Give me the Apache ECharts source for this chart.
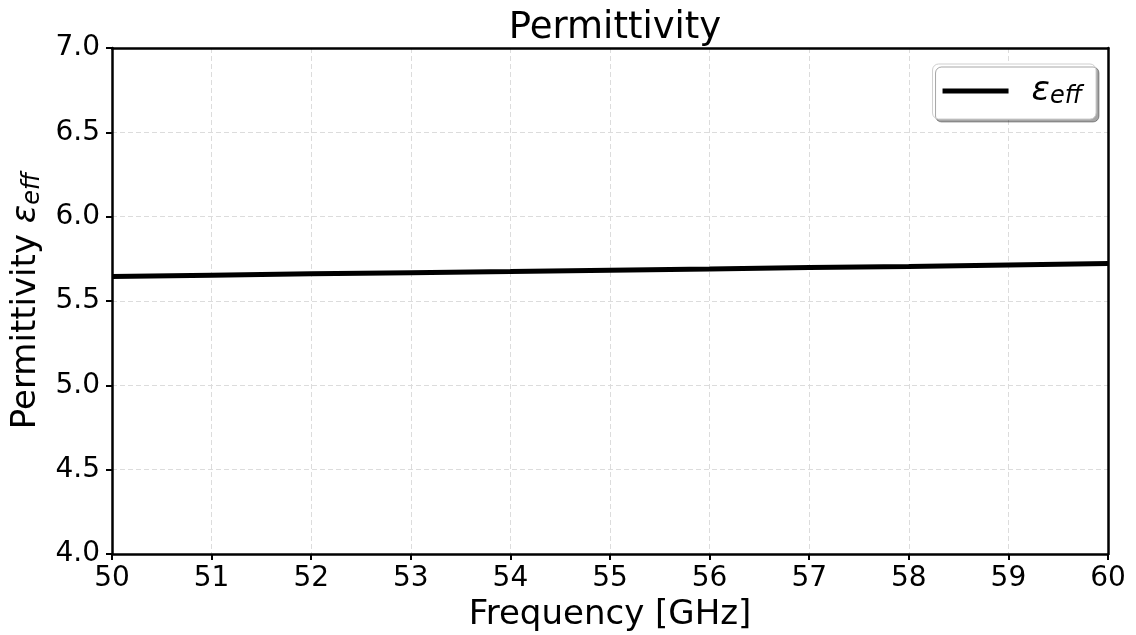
<!DOCTYPE html>
<html>
<head>
<meta charset="utf-8">
<script src="https://cdn.jsdelivr.net/npm/echarts@6/dist/echarts.min.js"></script>
<style>
  html, body { margin: 0; padding: 0; background: #fff; }
  #chart { width: 1136px; height: 635px; }
</style>
</head>
<body>
<div id="chart"></div>
<script>
// Frequency sweep (GHz) and effective permittivity
const frequencyGHz = [50, 51, 52, 53, 54, 55, 56, 57, 58, 59, 60];
const epsEff = [5.645, 5.653, 5.661, 5.668, 5.675, 5.683, 5.690, 5.698, 5.705, 5.714, 5.723];
const yTicks = [4.0, 4.5, 5.0, 5.5, 6.0, 6.5, 7.0];

const FONT = 'DejaVu Sans';
const seriesData = frequencyGHz.map((f, i) => [f, epsEff[i]]);

const spine = { show: true, onZero: false, lineStyle: { color: '#000', width: 2.5 } };
const grid = { show: true, lineStyle: { color: '#dcdcdc', width: 1, type: [5, 3] } };
const tick = { show: true, inside: false, length: 6, lineStyle: { color: '#000', width: 2 } };

// plain frame axes for the top and right edges of the plot box
const frameX = {
  type: 'value', position: 'top', min: 50, max: 60,
  axisLine: spine, axisTick: { show: false }, axisLabel: { show: false }, splitLine: { show: false }
};
const frameY = {
  type: 'value', position: 'right', min: yTicks[0], max: yTicks[yTicks.length - 1],
  axisLine: spine, axisTick: { show: false }, axisLabel: { show: false }, splitLine: { show: false }
};

const chart = echarts.init(document.getElementById('chart'), null, { renderer: 'canvas' });
chart.setOption({
  animation: false,
  backgroundColor: '#fff',
  textStyle: { fontFamily: FONT, color: '#000' },
  title: {
    text: 'Permittivity',
    left: 610,
    textAlign: 'center',
    top: 5,
    textStyle: { fontFamily: FONT, fontSize: 37, fontWeight: 'normal', color: '#000' }
  },
  grid: { left: 112, right: 28, top: 48, bottom: 81, containLabel: false, outerBoundsMode: 'none' },
  legend: {
    data: [{ name: 'eps', icon: 'rect' }],
    right: 40, top: 64,
    orient: 'vertical',
    itemWidth: 66, itemHeight: 5,
    padding: [10, 14, 10, 10],
    backgroundColor: '#fff',
    borderColor: '#cfcfcf', borderWidth: 1, borderRadius: 6,
    shadowColor: 'rgba(0,0,0,0.35)', shadowBlur: 0, shadowOffsetX: 3, shadowOffsetY: 3,
    formatter: () => '{e|ε}{s|eff}',
    textStyle: {
      rich: {
        e: { fontFamily: FONT, fontSize: 34, fontStyle: 'italic', color: '#000', padding: [0, 0, 0, 18] },
        s: { fontFamily: FONT, fontSize: 24, fontStyle: 'italic', color: '#000', verticalAlign: 'bottom', padding: [12, 0, 0, 0] }
      }
    }
  },
  xAxis: [{
    type: 'value',
    min: 50, max: 60, interval: 1,
    name: 'Frequency [GHz]',
    nameLocation: 'middle',
    nameGap: 44,
    nameTextStyle: { fontFamily: FONT, fontSize: 34, color: '#000' },
    axisLine: spine,
    axisTick: tick,
    axisLabel: { fontFamily: FONT, fontSize: 28, color: '#000', margin: 11 },
    splitLine: grid
  }, frameX],
  yAxis: [{
    type: 'value',
    min: yTicks[0], max: yTicks[yTicks.length - 1], interval: 0.5,
    name: '{p|Permittivity }{e|ε}{s|eff}',
    nameLocation: 'middle',
    nameRotate: 90,
    nameGap: 60,
    nameTextStyle: {
      rich: {
        p: { fontFamily: FONT, fontSize: 34, color: '#000' },
        e: { fontFamily: FONT, fontSize: 34, fontStyle: 'italic', color: '#000' },
        s: { fontFamily: FONT, fontSize: 24, fontStyle: 'italic', color: '#000', verticalAlign: 'bottom', padding: [12, 0, 0, 0] }
      }
    },
    axisLine: spine,
    axisTick: tick,
    axisLabel: {
      fontFamily: FONT, fontSize: 28, color: '#000', margin: 12,
      formatter: v => v.toFixed(1)
    },
    splitLine: grid
  }, frameY],
  series: [{
    name: 'eps',
    type: 'line',
    xAxisIndex: 0, yAxisIndex: 0,
    data: seriesData,
    showSymbol: false,
    symbol: 'none',
    itemStyle: { color: '#000' },
    lineStyle: { color: '#000', width: 5 }
  }]
});
</script>
</body>
</html>
